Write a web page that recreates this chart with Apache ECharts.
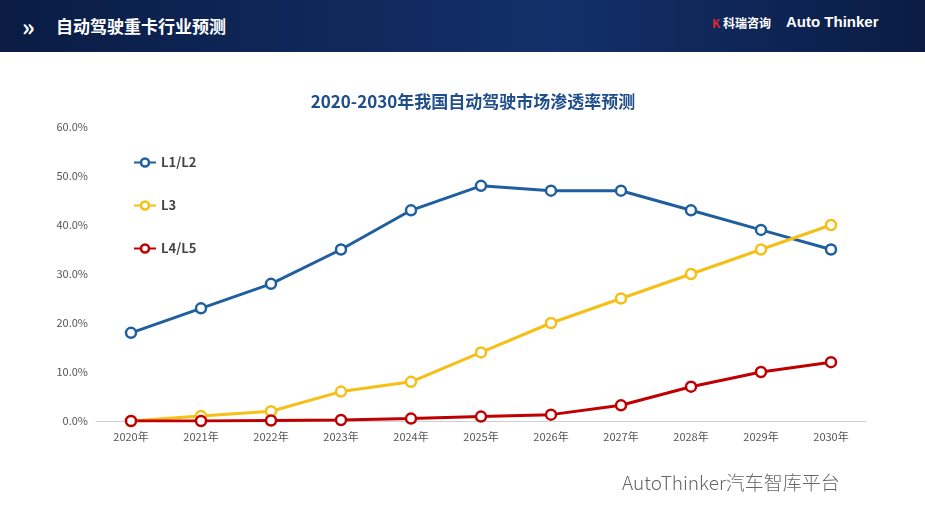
<!DOCTYPE html>
<html><head><meta charset="utf-8">
<script src="https://cdn.jsdelivr.net/npm/echarts@6/dist/echarts.min.js"></script>
<style>
html,body{margin:0;padding:0;background:#fff;}
#hdr{position:absolute;left:0;top:0;width:925px;height:52px;background:linear-gradient(90deg,#0a1c44,#13306a 60%,#0a1c44);font-family:"Noto Sans CJK SC",sans-serif;color:#fff;}
#hdr .t{position:absolute;left:56px;top:13px;font-size:17px;font-weight:bold;}
#hdr .c{position:absolute;left:22px;top:8px;font-size:24px;font-weight:bold;}
#hdr .l1{position:absolute;left:712px;top:14px;font-size:12px;font-weight:bold;}
#hdr .l2{position:absolute;left:786px;top:13px;font-size:15px;font-weight:bold;font-family:Arial,"Liberation Sans",sans-serif;}
#wm{position:absolute;left:622px;top:468px;font-size:19px;color:#666;font-family:"Noto Sans CJK SC",sans-serif;font-weight:300;}
#chart{position:absolute;left:0;top:0;width:925px;height:520px;}
</style></head>
<body>
<div id="chart"></div>
<div id="hdr"><span class="c">»</span><span class="t">自动驾驶重卡行业预测</span><span class="l1"><span style="color:#e0262f">K</span> 科瑞咨询</span><span class="l2">Auto Thinker</span></div>
<div id="wm">AutoThinker汽车智库平台</div>
<script>
var years = ['2020年','2021年','2022年','2023年','2024年','2025年','2026年','2027年','2028年','2029年','2030年'];
var l12 = [18, 23, 28, 35, 43, 48, 47, 47, 43, 39, 35];
var l3 = [0, 1, 2, 6, 8, 14, 20, 25, 30, 35, 40];
var l45 = [0, 0, 0.1, 0.2, 0.5, 0.9, 1.3, 3.2, 7, 10, 12];

var chart = echarts.init(document.getElementById('chart'));
function line(name, data, color) {
  return {
    name: name, type: 'line', data: data,
    symbol: 'circle', symbolSize: 10,
    itemStyle: { color: '#fff', borderColor: color, borderWidth: 2.5 },
    lineStyle: { color: color, width: 3 }
  };
}
chart.setOption({
  animation: false,
  textStyle: { fontFamily: '"Noto Sans CJK SC", sans-serif' },
  title: {
    text: '2020-2030年我国自动驾驶市场渗透率预测', left: 468, top: 88, textAlign: 'center',
    textStyle: { color: '#1f4e8c', fontSize: 17, fontWeight: 'bold' }
  },
  legend: {
    orient: 'vertical', left: 128, top: 151, itemGap: 30,
    itemWidth: 22, itemHeight: 10,
    textStyle: { color: '#444', fontSize: 13, fontWeight: 'bold' },
    data: [
      { name: 'L1/L2', itemStyle: { color: '#fff', borderColor: '#1f5fa0', borderWidth: 2.5 }, lineStyle: { color: '#1f5fa0' } },
      { name: 'L3', itemStyle: { color: '#fff', borderColor: '#f5bf15', borderWidth: 2.5 }, lineStyle: { color: '#f5bf15' } },
      { name: 'L4/L5', itemStyle: { color: '#fff', borderColor: '#c00000', borderWidth: 2.5 }, lineStyle: { color: '#c00000' } }
    ]
  },
  grid: { left: 96, right: 59, top: 127, bottom: 99 },
  xAxis: {
    type: 'category', data: years,
    axisLine: { lineStyle: { color: '#d0d0d0' } }, axisTick: { show: false },
    axisLabel: { color: '#555', fontSize: 11, margin: 10 }
  },
  yAxis: {
    type: 'value', min: 0, max: 60, interval: 10,
    axisLabel: { color: '#555', fontSize: 11, formatter: function (v) { return v.toFixed(1) + '%'; } },
    splitLine: { show: false }, axisLine: { show: false }, axisTick: { show: false }
  },
  series: [line('L1/L2', l12, '#1f5fa0'), line('L3', l3, '#f5bf15'), line('L4/L5', l45, '#c00000')]
});
</script>
</body></html>
